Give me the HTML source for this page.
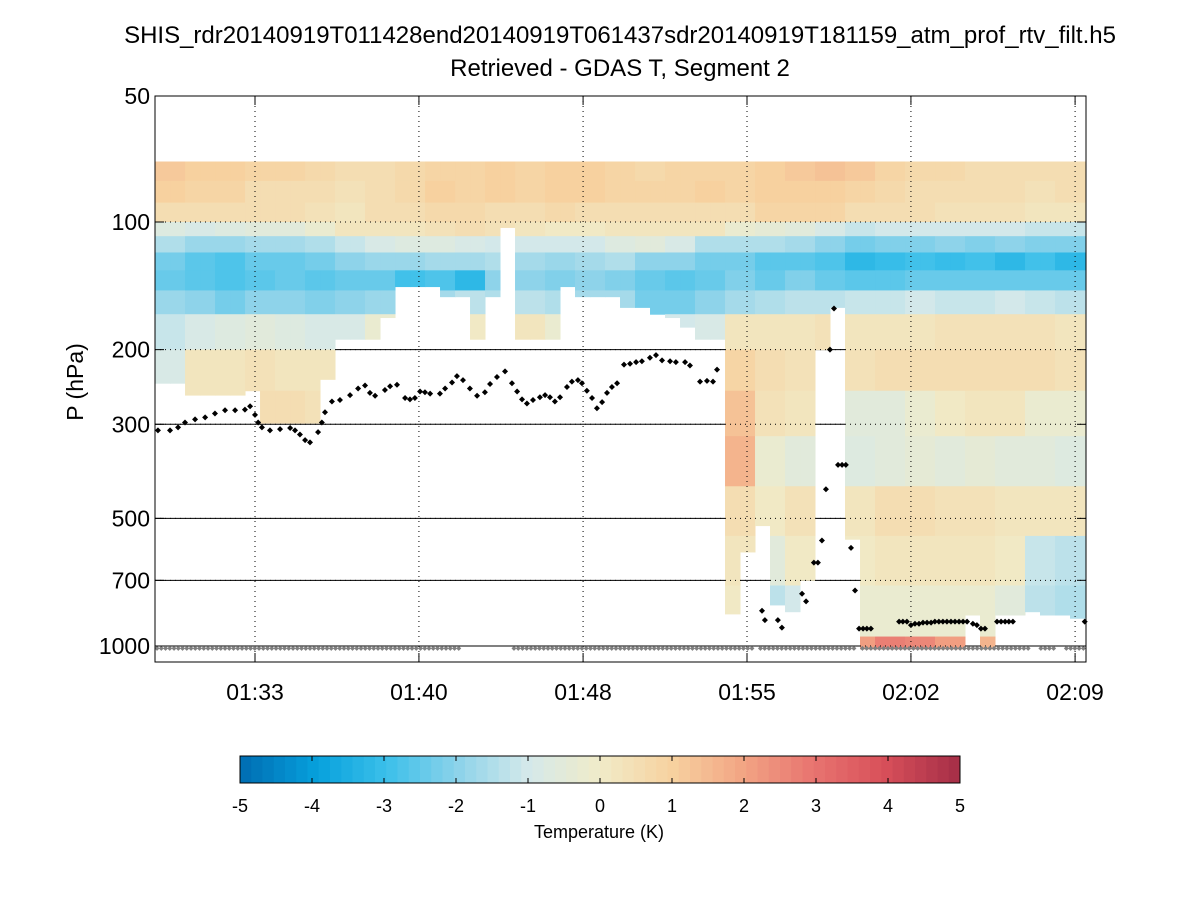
<!DOCTYPE html>
<html><head><meta charset="utf-8">
<style>
body{margin:0;background:#fff;}
svg text{font-family:"Liberation Sans",Arial,sans-serif;fill:#000;}
</style></head>
<body>
<svg id="chart" width="1200" height="900" xmlns="http://www.w3.org/2000/svg">
<rect width="1200" height="900" fill="#fff"/>
<text x="620" y="43" font-size="24" text-anchor="middle">SHIS_rdr20140919T011428end20140919T061437sdr20140919T181159_atm_prof_rtv_filt.h5</text>
<text x="620" y="76" font-size="24" text-anchor="middle">Retrieved - GDAS T, Segment 2</text>
<text transform="translate(83,382) rotate(-90)" font-size="23" text-anchor="middle">P (hPa)</text>
<g id="solidgrid"></g>
<g id="heat"></g>
<g id="dotgrid"></g>
<g id="surf"></g>
<g id="dots"></g>
<g id="axes"></g>
<g id="cbar"></g>
</svg>
<script>
// ---- data ----
const yTicks = [50,100,200,300,500,700,1000];
const xTickTimes = [33,40.33,47.67,55,62.33,69.67];
const xTickLabels = ["01:33","01:40","01:48","01:55","02:02","02:09"];
const bandEdges = [72,80,90,100,108,118,130,145,165,200,250,320,420,550,720,950,1020];
const colStart = 28.53, colStep = 0.6707; // minutes per retrieval column
const colBottom = [240,240,256,256,256,256,250,298,298,298,298,235,189,189,189,168,142,142,142,150,150,189,150,103,189,189,189,142,150,150,150,159,159,165,168,177,189,189,840,600,520,800,830,700,200,159,560,1016,1016,1016,1016,1016,1016,1016,845,1016,845,845,830,845,845,860];
const b0 = [1.2,1.0,1.0,0.8,0.8,0.7,0.6,0.6,0.7,0.9,0.9,1.1,0.9,1.0,1.0,0.8,0.7,0.9,0.8,0.9,1.0,1.2,1.3,1.2,0.8,0.7,0.7,0.6,0.6,0.5,0.5];
const b1 = [1.1,0.9,0.8,0.6,0.6,0.5,0.4,0.6,0.7,1.0,0.8,1.0,0.9,1.0,1.0,0.9,0.8,0.9,1.0,0.9,1.1,1.1,1.0,0.9,0.7,0.6,0.6,0.5,0.5,0.4,0.5];
const b2 = [0.6,0.5,0.5,0.5,0.5,0.4,0.3,0.5,0.5,0.7,0.7,0.6,0.6,0.7,0.6,0.6,0.5,0.6,0.5,0.6,0.8,0.9,0.8,0.6,0.5,0.5,0.4,0.4,0.4,0.3,0.3];
const b3 = [-0.7,-0.8,-0.7,-0.6,-0.5,-0.3,0.2,0.3,0.3,0.4,0.5,0.4,0.3,0.1,0.1,0.2,0.3,0.2,0.2,-0.2,-0.4,-0.6,-0.9,-1.2,-1.1,-1.1,-1.0,-1.0,-1.0,-1.2,-1.2];
const b4 = [-1.5,-1.8,-1.9,-1.6,-1.6,-1.5,-1.2,-0.9,-0.7,-0.7,-0.8,-1.0,-1.0,-1.1,-1.1,-0.7,-0.6,-0.9,-1.5,-1.5,-1.5,-1.7,-2.0,-2.3,-2.2,-2.2,-2.0,-2.1,-2.0,-2.2,-2.2];
const b5 = [-2.3,-2.6,-2.7,-2.4,-2.4,-2.3,-2.0,-1.9,-1.8,-1.6,-1.6,-1.5,-1.7,-1.8,-1.6,-1.5,-2.0,-2.0,-2.3,-2.3,-2.6,-2.6,-2.8,-3.3,-3.1,-3.0,-3.1,-3.0,-3.2,-3.0,-3.3];
const b6 = [-2.4,-2.6,-2.8,-2.6,-2.5,-2.6,-2.5,-2.4,-3.0,-2.8,-3.3,-2.0,-2.0,-2.2,-2.0,-2.2,-2.5,-2.6,-2.5,-2.2,-2.4,-2.2,-2.4,-2.6,-2.6,-2.5,-2.4,-2.5,-2.4,-2.4,-2.5];
const b7 = [-1.8,-2.0,-2.3,-2.0,-2.0,-2.2,-2.0,-1.8,-1.6,-1.6,-1.4,-1.5,-1.4,-1.5,-1.6,-1.7,-2.3,-2.3,-2.0,-1.6,-1.5,-1.4,-1.3,-1.2,-1.2,-1.1,-1.2,-1.2,-1.1,-1.2,-1.3];
const b8 = [-1.2,-0.8,-0.7,-0.6,-0.7,-0.9,-0.8,-0.3,-0.2,-0.2,0.1,0.1,0.2,-0.2,0.1,-0.2,-0.8,-1.0,-0.8,0.2,0.3,0.3,0.4,0.3,0.3,0.3,0.4,0.4,0.4,0.4,0.3];
const b9 = [-0.8,0.2,0.3,0.4,0.3,0.3,0.3,0.4,0.4,0.4,0.3,0.3,0.3,0.3,0.3,0.3,0.3,0.3,0.3,0.9,0.6,0.4,0.7,0.4,0.5,0.5,0.5,0.6,0.6,0.5,0.4];
const b10 = [0.0,0.3,0.2,0.5,0.5,0.4,0.3,0.3,0.3,0.3,0.3,0.3,0.3,0.3,0.3,0.3,0.3,0.3,0.3,1.4,0.4,0.3,1.1,-0.5,-0.6,-0.3,0.0,0.2,0.2,-0.2,-0.3];
const b11 = [0,0,0,0,0,0,0,0,0,0,0,0,0,0,0,0,0,0,0,1.7,-0.2,-0.5,1.3,-0.7,-0.5,-0.4,-0.5,-0.4,-0.6,-0.6,-0.7];
const b12 = [0,0,0,0,0,0,0,0,0,0,0,0,0,0,0,0,0,0,0,0.6,0.1,0.4,0.3,0.3,0.5,0.5,0.4,0.4,0.3,0.2,0.3];
const b13 = [0,0,0,0,0,0,0,0,0,0,0,0,0,0,0,0,0,0,0,0.3,-0.6,0.0,0.1,0.1,0.3,0.3,0.3,0.3,0.0,-1.2,-1.3];
const b14 = [0,0,0,0,0,0,0,0,0,0,0,0,0,0,0,0,0,0,0,0.0,-1.3,-1.0,-0.5,-0.3,-0.2,-0.2,-0.2,-0.3,-0.5,-1.4,-1.5];
const b15 = [0,0,0,0,0,0,0,0,0,0,0,0,0,0,0,0,0,0,0,1.2,0,0,0,2.2,2.8,2.6,2.2,1.7,1.6,0,0];
const bands = [b0,b1,b2,b3,b4,b5,b6,b7,b8,b9,b10,b11,b12,b13,b14,b15];
const dotTimes = [28.66,29.20,29.56,29.87,30.32,30.77,31.21,31.66,32.11,32.55,32.78,33.00,33.14,33.31,33.67,34.12,34.57,34.79,35.01,35.24,35.46,35.82,35.99,36.13,36.44,36.80,37.25,37.61,37.92,38.14,38.37,38.81,39.04,39.35,39.71,39.93,40.15,40.38,40.60,40.83,41.27,41.50,41.81,42.03,42.30,42.61,42.93,43.28,43.51,43.82,44.18,44.49,44.72,44.94,45.16,45.43,45.74,45.97,46.19,46.41,46.64,46.95,47.17,47.44,47.62,47.84,48.07,48.29,48.52,48.74,48.96,49.19,49.50,49.77,50.04,50.30,50.66,50.93,51.20,51.56,51.82,52.23,52.45,52.90,53.21,53.48,53.66,
55.67,55.80,56.38,56.56,57.46,57.64,57.99,58.17,58.35,58.53,58.71,58.89,59.07,59.25,59.42,59.65,59.83,60.01,60.19,60.36,60.54,61.80,61.97,62.15,62.33,62.51,62.69,62.87,63.05,63.23,63.40,63.58,63.76,63.94,64.12,64.30,64.48,64.66,64.84,65.10,65.28,65.46,65.64,66.18,66.36,66.54,66.71,66.89,70.10];
const dotPressures = [310,310,305,297,292,289,283,278,278,277,272,285,297,305,310,308,306,310,317,327,331,313,297,281,265,263,256,247,243,253,257,249,244,242,260,262,260,251,252,254,254,247,239,231,236,247,257,252,241,232,225,240,251,262,268,263,259,256,259,265,259,245,238,236,240,250,260,275,266,253,245,240,217,216,214,213,209,206,212,213,214,214,218,238,237,238,223,
826,869,869,905,753,785,636,636,564,427,200,160,374,374,374,587,740,910,910,910,910,876,876,876,893,886,886,881,881,881,876,876,876,876,876,876,876,876,876,886,893,910,910,876,876,876,876,876,876];
const surfacePressure = 1013;
const surfaceGaps = [[42.2,44.4],[55.3,55.5],[59.9,60.1],[67.65,68.1],[68.8,69.1]];
const cbTicks = [-5,-4,-3,-2,-1,0,1,2,3,4,5];

// ---- scales ----
const L=155,R=1086,T=96,B=662;
const xs = t => 255 + (t-33)*22.364;
const ys = p => 222 + 424*Math.log10(p/100);
const NS="http://www.w3.org/2000/svg";
function mk(tag, parent, attrs){const e=document.createElementNS(NS,tag);for(const k in attrs)e.setAttribute(k,attrs[k]);parent.appendChild(e);return e;}
const stops=[[-5,[0,112,181]],[-4,[6,160,220]],[-3,[60,192,234]],[-2,[141,211,234]],[-1,[213,233,234]],[0,[240,235,200]],[1,[247,210,160]],[2,[242,165,132]],[3,[232,116,112]],[4,[216,80,90]],[5,[168,48,72]]];
function color(v){
  v=Math.max(-5,Math.min(5,v));
  v=Math.round((v+5)/10*63)/63*10-5;
  for(let i=0;i<stops.length-1;i++){const a=stops[i],b=stops[i+1];
    if(v<=b[0]){const f=(v-a[0])/(b[0]-a[0]);const c=a[1].map((x,j)=>Math.round(x+(b[1][j]-x)*f));return `rgb(${c[0]},${c[1]},${c[2]})`;}}
  return "rgb(168,48,72)";
}

// solid grid
const sg=document.getElementById('solidgrid');
[200,300,500,700,1000].forEach(p=>{const l=mk('line',sg,{x1:L,x2:R,y1:ys(p),y2:ys(p),stroke:'#000','stroke-width':1});

});

// heatmap
const hg=document.getElementById('heat');
colBottom.forEach((bot,i)=>{
  const t0=colStart+i*colStep, t1=t0+colStep;
  const x0=Math.max(L,xs(t0)), x1=Math.min(R,xs(t1));
  const ci=Math.floor(i/2);
  for(let b=0;b<bands.length;b++){
    const pTop=bandEdges[b]; let pBot=bandEdges[b+1];
    if(pTop>=bot) break;
    if(pBot>bot) pBot=bot;
    const r=mk('rect',hg,{x:x0,y:ys(pTop),width:x1-x0+0.5,height:ys(pBot)-ys(pTop)+0.5,fill:color(bands[b][ci])});
    
    
  }
});

// dotted grid
const dg=document.getElementById('dotgrid');
[100,200,300,500,700,1000].forEach(p=>{const l=mk('line',dg,{x1:L,x2:R,y1:ys(p),y2:ys(p),stroke:'#000','stroke-width':1,'stroke-dasharray':'1,4'});

});
xTickTimes.forEach(t=>{const l=mk('line',dg,{x1:xs(t),x2:xs(t),y1:T,y2:B,stroke:'#000','stroke-width':1,'stroke-dasharray':'1,4'});

});

// surface markers
const sfg=document.getElementById('surf');
for(let t=28.62;t<70.2;t+=0.19){
  if(surfaceGaps.some(g=>t>g[0]&&t<g[1]))continue;
  const x=xs(t),y=ys(surfacePressure);
  const d=mk('path',sfg,{d:`M${x-2.5},${y}L${x},${y-2.5}L${x+2.5},${y}L${x},${y+2.5}Z`,fill:'#808080'});
  
  
}
// cloud/top markers
const dgp=document.getElementById('dots');
dotTimes.forEach((t,i)=>{const x=xs(t),y=ys(dotPressures[i]);
  const d=mk('path',dgp,{d:`M${x-3},${y}L${x},${y-3}L${x+3},${y}L${x},${y+3}Z`,fill:'#000'});
  
  
});

// axes
const ag=document.getElementById('axes');
const box=mk('rect',ag,{x:L,y:T,width:R-L,height:B-T,fill:'none',stroke:'#000','stroke-width':1});


yTicks.forEach(p=>{const y=p===50?T:ys(p);
  mk('line',ag,{x1:L,x2:L+9,y1:y,y2:y,stroke:'#000'});
  mk('line',ag,{x1:R-9,x2:R,y1:y,y2:y,stroke:'#000'});
  const tx=mk('text',ag,{x:L-5,y:y+8,'font-size':23,'text-anchor':'end'});tx.textContent=p;
  
  
});
xTickTimes.forEach((t,i)=>{const x=xs(t);
  mk('line',ag,{x1:x,x2:x,y1:B,y2:B-9,stroke:'#000'});
  mk('line',ag,{x1:x,x2:x,y1:T,y2:T+9,stroke:'#000'});
  const tx=mk('text',ag,{x:x,y:700,'font-size':23,'text-anchor':'middle'});tx.textContent=xTickLabels[i];
  
  
});

// colorbar
const cg=document.getElementById('cbar');
const cx0=240,cx1=960,cy0=756,cy1=783;
for(let k=0;k<64;k++){const v=-5+(k+0.5)*10/64;
  const r=mk('rect',cg,{x:cx0+k*(cx1-cx0)/64,y:cy0,width:(cx1-cx0)/64+0.5,height:cy1-cy0,fill:color(v)});
  
  
}
mk('rect',cg,{x:cx0,y:cy0,width:cx1-cx0,height:cy1-cy0,fill:'none',stroke:'#000'});
cbTicks.forEach(v=>{const x=cx0+(v+5)/10*(cx1-cx0);
  mk('line',cg,{x1:x,x2:x,y1:cy0,y2:cy0+5,stroke:'#000'});
  mk('line',cg,{x1:x,x2:x,y1:cy1,y2:cy1-5,stroke:'#000'});
  const tx=mk('text',cg,{x:x,y:812,'font-size':18,'text-anchor':'middle'});tx.textContent=v;
  
  
});
const ct=mk('text',cg,{x:599,y:838,'font-size':18,'text-anchor':'middle'});ct.textContent='Temperature (K)';


</script>
</body></html>
